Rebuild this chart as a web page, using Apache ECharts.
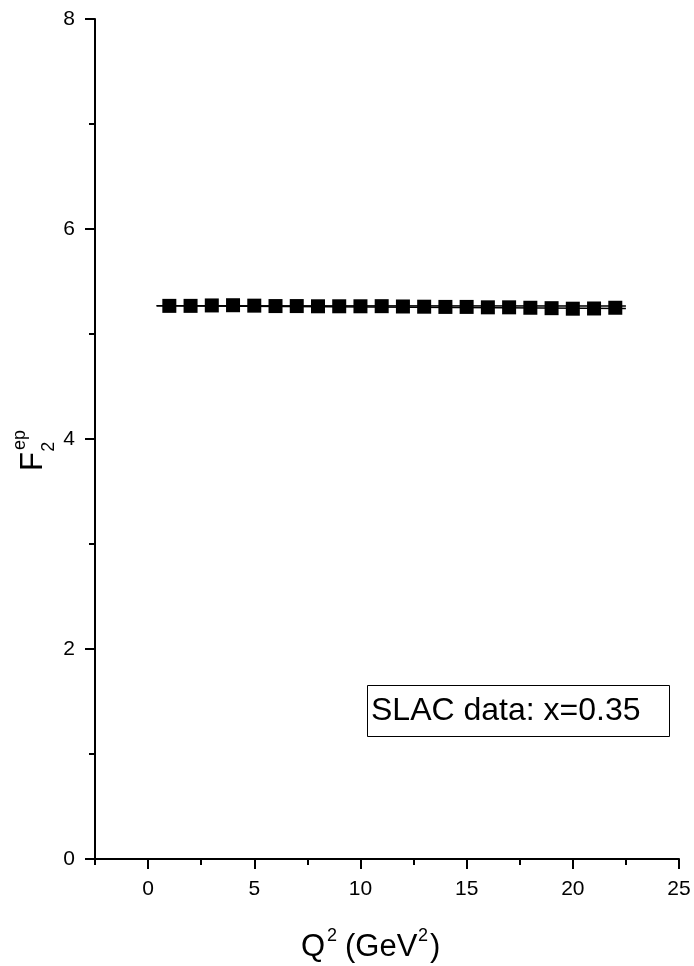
<!DOCTYPE html>
<html>
<head>
<meta charset="utf-8">
<script src="https://cdn.jsdelivr.net/npm/echarts@6/dist/echarts.min.js"></script>
<style>html,body{margin:0;padding:0;background:#fff}#c{width:694px;height:966px}</style>
</head>
<body>
<div id="c"></div>
<script>
// ---- data ----
var q2 = [1,2,3,4,5,6,7,8,9,10,11,12,13,14,15,16,17,18,19,20,21,22];
var f2 = [5.268,5.268,5.272,5.274,5.270,5.266,5.266,5.264,5.264,5.264,5.265,5.262,5.260,5.258,5.258,5.254,5.254,5.250,5.246,5.241,5.243,5.250];
var fitAx = [0.4, 22.5];
var fitAy = [5.268, 5.266];
var fitBx = [0.4, 22.5];
var fitBy = [5.270, 5.242];
var xMajor = [0,5,10,15,20,25];
var xMinor = [-2.5,2.5,7.5,12.5,17.5,22.5];
var legendText = 'SLAC data: x=0.35';

function pairs(xs, ys){ return xs.map(function(x,i){return [x, ys[i]];}); }

var font = 'Liberation Sans, Arial, sans-serif';
function txt(x, y, s, size){
  return {type:'text', x:x, y:y, style:{text:s, font:size+'px '+font, fill:'#000', verticalAlign:'middle', align:'left'}};
}
var chart = echarts.init(document.getElementById('c'), null, {renderer:'canvas'});
chart.setOption({
  animation:false,
  backgroundColor:'#fff',
  grid:{left:95,right:15,top:19,bottom:107,containLabel:false},
  xAxis:[{
    type:'value', min:-2.5, max:25, position:'bottom',
    axisLine:{show:true,onZero:false,lineStyle:{color:'#000',width:2}},
    axisTick:{show:true,length:10,lineStyle:{color:'#000',width:2},customValues:xMajor},
    axisLabel:{show:true,customValues:xMajor,color:'#000',fontSize:21,fontFamily:font,margin:20},
    splitLine:{show:false}
  },{
    type:'value', min:-2.5, max:25, position:'bottom', gridIndex:0,
    axisLine:{show:false,onZero:false},
    axisTick:{show:true,length:6,lineStyle:{color:'#000',width:2},customValues:xMinor},
    axisLabel:{show:false},
    splitLine:{show:false}
  }],
  yAxis:{
    type:'value', min:0, max:8, interval:2,
    axisLine:{show:true,onZero:false,lineStyle:{color:'#000',width:2}},
    axisTick:{show:true,length:10,lineStyle:{color:'#000',width:2}},
    minorTick:{show:true,splitNumber:2,length:6,lineStyle:{color:'#000',width:2}},
    axisLabel:{color:'#000',fontSize:21,fontFamily:font,margin:20},
    splitLine:{show:false}
  },
  series:[{
    type:'line', data:pairs(fitAx,fitAy), symbol:'none',
    lineStyle:{color:'#000',width:1.5}, z:2
  },{
    type:'line', data:pairs(fitBx,fitBy), symbol:'none',
    lineStyle:{color:'#000',width:1.5}, z:2
  },{
    type:'scatter', data:pairs(q2,f2), symbol:'rect', symbolSize:14,
    itemStyle:{color:'#000',opacity:1}, z:3
  }],
  graphic:[
    {type:'rect', shape:{x:367.5,y:685.5,width:302,height:51}, style:{fill:'#fff',stroke:'#000',lineWidth:1}, z:10},
    {type:'text', x:371, y:711, style:{text:legendText, font:'32px '+font, fill:'#000', verticalAlign:'middle'}, z:11},
    txt(301, 947, 'Q', 31),
    txt(327, 936, '2', 18),
    txt(345, 947, '(GeV', 31),
    txt(418, 936, '2', 18),
    txt(430, 947, ')', 31),
    {type:'group', x:44, y:471, rotation:Math.PI/2, children:[
      txt(0, -10.9, 'F', 31),
      txt(19.3, 4.7, '2', 18),
      txt(21, -24.3, 'ep', 18)
    ]}
  ]
});
</script>
</body>
</html>
